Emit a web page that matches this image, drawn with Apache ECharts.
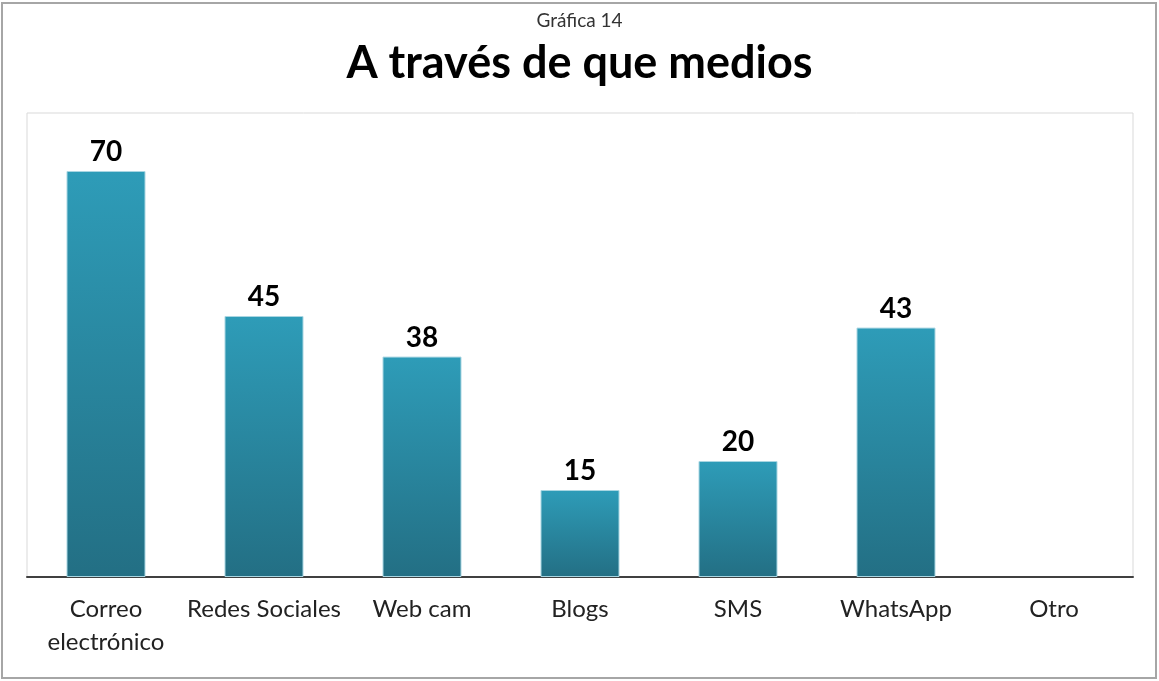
<!DOCTYPE html>
<html><head><meta charset="utf-8">
<script src="https://cdn.jsdelivr.net/npm/echarts@6/dist/echarts.min.js"></script>
<style>html,body{margin:0;padding:0;background:#fff}#c{width:1159px;height:681px}</style>
</head><body><div id="c"></div>
<script>
const categories = ['Correo\nelectrónico', 'Redes Sociales', 'Web cam', 'Blogs', 'SMS', 'WhatsApp', 'Otro'];
const values = [70, 45, 38, 15, 20, 43, null];
const chart = echarts.init(document.getElementById('c'));
const font = 'Lato, "Open Sans", sans-serif';
chart.setOption({
  animation: false,
  backgroundColor: '#fff',
  title: [
    {text: 'Gráfica 14', left: 'center', top: 6, textStyle: {fontFamily: font, fontSize: 19, fontWeight: 'normal', color: '#333'}},
    {text: 'A través de que medios', left: 'center', top: 36, textStyle: {fontFamily: font, fontSize: 45, fontWeight: 'bold', color: '#000'}}
  ],
  graphic: [
    {type: 'rect', shape: {x: 2, y: 3, width: 1154, height: 675}, style: {fill: 'none', stroke: '#a6a6a6', lineWidth: 2}, z: 100}
  ],
  grid: {left: 27, right: 26, top: 113, bottom: 104, show: true, borderColor: '#d9d9d9', borderWidth: 1, backgroundColor: '#fff'},
  xAxis: {
    type: 'category', data: categories,
    axisLine: {lineStyle: {color: '#404040', width: 2}},
    axisTick: {show: false},
    axisLabel: {interval: 0, margin: 16, fontFamily: font, fontSize: 24, color: '#222', lineHeight: 33}
  },
  yAxis: {type: 'value', min: 0, max: 80, show: false, splitLine: {show: false}},
  series: [{
    type: 'bar', data: values, barWidth: '50%',
    itemStyle: {
      color: {type: 'linear', x: 0, y: 0, x2: 0, y2: 1, colorStops: [{offset: 0, color: '#2e9cb8'}, {offset: 1, color: '#236f84'}]},
      borderColor: '#a9d6e2', borderWidth: 1
    },
    label: {show: true, position: 'top', distance: 5, fontFamily: font, fontSize: 28, fontWeight: 'bold', color: '#000'}
  }]
});
</script></body></html>
